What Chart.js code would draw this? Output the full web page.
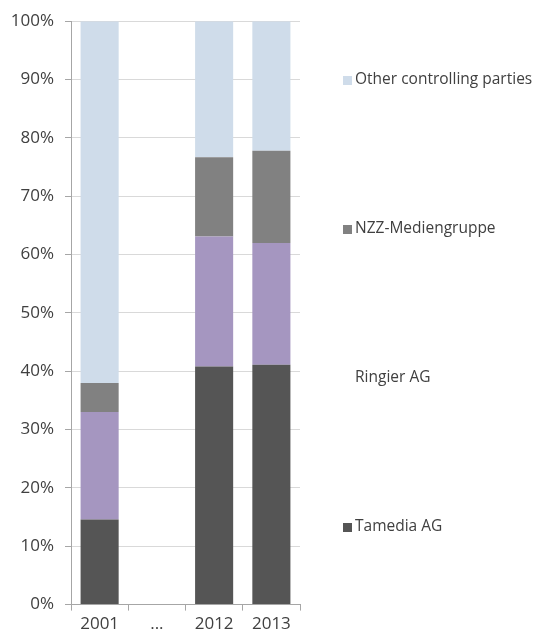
<!DOCTYPE html>
<html>
<head>
<meta charset="utf-8">
<script src="https://cdn.jsdelivr.net/npm/chart.js@4"></script>
<style>
	html, body { margin: 0; padding: 0; background: #fff; overflow: hidden; }
	.chart-box { position: relative; width: 533px; height: 637px; }
</style>
</head>
<body>
<div class="chart-box"><canvas class="ownership"></canvas></div>
<script>
// values in percent
const years = ['2001', '...', '2012', '2013'];
const tamedia = [14.6, null, 40.8, 41.1];
const ringier = [18.4, null, 22.3, 20.9];
const nzz = [5.0, null, 13.6, 15.8];
const others = [62.0, null, 23.3, 22.2];
const yTicks = [0, 10, 20, 30, 40, 50, 60, 70, 80, 90, 100];

const textColor = '#404040';
const axisColor = '#a6a6a6';

// legend is drawn by hand, Excel style with big gaps, Ringier has no box
const legendItems = [
	{ text: 'Other controlling parties', color: '#cfdcea' },
	{ text: 'NZZ-Mediengruppe', color: '#818181' },
	{ text: 'Ringier AG', color: null },
	{ text: 'Tamedia AG', color: '#555555' },
];

const sideLegend = {
	id: 'sideLegend',
	afterDraw(chart) {
		const ctx = chart.ctx;
		ctx.save();
		ctx.font = '15.5px "Open Sans"';
		ctx.textBaseline = 'middle';
		ctx.fillStyle = textColor;
		let y = 80;
		for (const item of legendItems) {
			if (item.color) {
				ctx.fillStyle = item.color;
				ctx.fillRect(343, y - 4, 9, 9);
			}
			ctx.fillStyle = textColor;
			ctx.fillText(item.text, 355, y);
			y += 149;
		}
		ctx.restore();
	},
};

const createChart = function () {
	const data = {
		labels: years,
		datasets: [
			{ label: 'Tamedia AG', data: tamedia, backgroundColor: '#555555' },
			{ label: 'Ringier AG', data: ringier, backgroundColor: '#a596c0' },
			{ label: 'NZZ-Mediengruppe', data: nzz, backgroundColor: '#818181' },
			{ label: 'Other controlling parties', data: others, backgroundColor: '#cfdcea' },
		],
	};

	const config = {
		type: 'bar',
		data: data,
		options: {
			responsive: true,
			maintainAspectRatio: false,
			animation: false,
			datasets: {
				bar: {
					categoryPercentage: 1,
					barPercentage: 0.665,
				},
			},
			layout: {
				padding: { top: 21, right: 233, left: 0, bottom: 0 },
			},
			plugins: {
				legend: { display: false },
				tooltip: { enabled: false },
			},
			scales: {
				x: {
					stacked: true,
					offset: true,
					grid: {
						offset: true,
						drawOnChartArea: false,
						tickLength: 6,
						color: axisColor,
					},
					border: { color: axisColor },
					ticks: {
						color: textColor,
						padding: 3,
						maxRotation: 0,
						font: { family: '"Open Sans"', size: 17 },
					},
				},
				y: {
					stacked: true,
					min: 0,
					max: 100,
					afterBuildTicks: function (scale) {
						scale.ticks = yTicks.map((v) => ({ value: v }));
					},
					afterFit: function (scale) {
						scale.width = 71;
					},
					grid: {
						color: '#d9d9d9',
						tickColor: axisColor,
						tickLength: 6,
					},
					border: { color: axisColor },
					ticks: {
						color: textColor,
						padding: 11,
						font: { family: '"Open Sans"', size: 17 },
						callback: (v) => v + '%',
					},
				},
			},
		},
		plugins: [sideLegend],
	};

	const ctx = document.querySelector('.ownership');
	new Chart(ctx, config);
};

const init = function () {
	createChart();
};
document.addEventListener('DOMContentLoaded', init);
</script>
</body>
</html>
